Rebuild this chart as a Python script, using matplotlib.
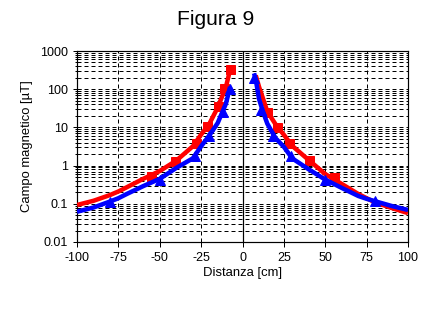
import matplotlib.pyplot as plt
from matplotlib.ticker import LogLocator, FixedLocator, NullFormatter

plt.rcParams['font.family'] = ['Liberation Sans', 'DejaVu Sans']

# curve di campo, lato sinistro e destro del conduttore
x_sx = [-100, -90, -80, -75, -70, -60, -50, -40, -30, -25, -20, -15, -10, -7.5]
rosso_sx = [0.093, 0.12, 0.17, 0.21, 0.27, 0.45, 0.72, 1.35, 3.2, 6.5, 12.5, 33, 115, 320]
blu_sx = [0.062, 0.08, 0.115, 0.14, 0.18, 0.29, 0.45, 0.87, 1.55, 3.2, 6.2, 13, 42, 115]

x_dx_r = [8, 10, 12.5, 15, 20, 25, 30, 40, 50, 60, 70, 75, 80, 90, 100]
rosso_dx = [230, 115, 55, 26, 12, 6.4, 3.3, 1.4, 0.6, 0.33, 0.18, 0.14, 0.11, 0.078, 0.057]
x_dx_b = [7, 8, 10, 12.5, 15, 20, 25, 30, 40, 50, 60, 70, 75, 80, 90, 100]
blu_dx = [260, 180, 55, 25, 12.5, 5.2, 3.1, 1.55, 0.8, 0.43, 0.26, 0.16, 0.135, 0.117, 0.088, 0.069]

# punti misurati
quad_x = [-55, -41, -28, -21.5, -15, -11, -7.5, 15, 21, 28, 40, 55]
quad_y = [0.55, 1.35, 3.9, 11, 37, 106, 330, 26, 10.5, 3.9, 1.4, 0.5]
tri_x = [-80, -50, -29, -20, -11.5, -7.5, 7, 11.3, 18.3, 29.4, 49.6, 80]
tri_y = [0.11, 0.43, 1.74, 6, 26, 100, 200, 29, 6, 1.74, 0.41, 0.117]

x_ticks = [-100, -75, -50, -25, 0, 25, 50, 75, 100]
y_ticks = [0.01, 0.1, 1, 10, 100, 1000]
y_labels = ['0.01', '0.1', '1', '10', '100', '1000']

fig = plt.figure(figsize=(6, 4.5), dpi=72)
ax = fig.add_axes([77 / 432, 1 - 242 / 324, 331 / 432, 191 / 324])

ax.set_yscale('log')
ax.set_xlim(-100, 100)
ax.set_ylim(0.01, 1000)

# griglia tratteggiata
dash = (0, (4, 3))
ax.yaxis.set_minor_locator(LogLocator(base=10, subs=range(2, 10), numticks=20))
ax.yaxis.set_minor_formatter(NullFormatter())
ax.grid(True, which='both', axis='y', color='black', linestyle=dash, linewidth=1)
for xv in [-75, -50, -25, 25, 50, 75]:
    ax.axvline(xv, color='black', linestyle=dash, linewidth=1, zorder=1)
ax.axvline(0, color='black', linewidth=1.2, zorder=1)

# rosso
ax.plot(x_sx, rosso_sx, color='#ff0000', linewidth=4.5, solid_capstyle='butt', zorder=3)
ax.plot(x_dx_r, rosso_dx, color='#ff0000', linewidth=4.5, solid_capstyle='butt', zorder=3)
ax.plot(quad_x, quad_y, 's', color='#ff0000', markersize=9, zorder=4)

# blu
ax.plot(x_sx, blu_sx, color='#0000ff', linewidth=4.5, solid_capstyle='butt', zorder=5)
ax.plot(x_dx_b, blu_dx, color='#0000ff', linewidth=4.5, solid_capstyle='butt', zorder=5)
ax.plot(tri_x, tri_y, '^', color='#0000ff', markersize=10, zorder=6)

ax.xaxis.set_major_locator(FixedLocator(x_ticks))
ax.set_xticklabels([str(t) for t in x_ticks])
ax.yaxis.set_major_locator(FixedLocator(y_ticks))
ax.set_yticklabels(y_labels)
ax.tick_params(axis='both', which='both', labelsize=12.5, color='black', width=1)
ax.tick_params(axis='x', which='major', direction='out', length=5, pad=5)
ax.tick_params(axis='y', which='major', direction='inout', length=8, pad=5)
ax.tick_params(axis='y', which='minor', direction='inout', length=5)
for s in ax.spines.values():
    s.set_linewidth(1.2)

ax.set_xlabel('Distanza [cm]', fontsize=13, labelpad=3)
ax.set_ylabel('Campo magnetico [µT]', fontsize=13, labelpad=7)
fig.text(0.5, 1 - 25 / 324, 'Figura 9', ha='center', va='baseline', fontsize=21)

fig.savefig('out.png', dpi=72)
